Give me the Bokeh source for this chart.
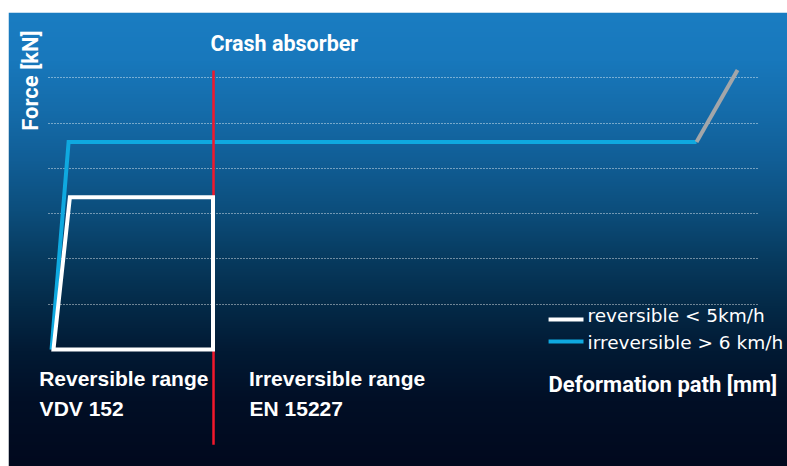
import numpy as np
from bokeh.plotting import figure
from bokeh.models import Range1d, FixedTicker
from bokeh.core.properties import value
from bokeh.embed import file_html
from bokeh.resources import INLINE

# ---- data (deformation path in arbitrary units, force in arbitrary units) ----
irrev_x = [-0.6, 10.0, 400.0]
irrev_y = [0.0, 4.58, 4.58]
rev_x = [0.6, 10.8, 99.7, 99.7]
rev_y = [0.0, 3.36, 3.36, 0.0]
end_x = [400.0, 425.5]
end_y = [4.58, 6.17]
absorber_x = [100.0, 100.0]
absorber_y = [-2.1, 6.16]
grid_ticks = [1, 2, 3, 4, 5, 6]

legend_labels = ["reversible < 5km/h", "irreversible > 6 km/h"]
range_labels = ["Reversible range", "VDV 152", "Irreversible range", "EN 15227"]

X0, X1 = -27.33, 456.5
Y0, Y1 = -2.58, 7.44
DY = 0.155  # baseline correction for text glyphs

p = figure(width=787, height=466, output_backend="svg", toolbar_location=None,
           x_range=Range1d(X0, X1), y_range=Range1d(Y0, Y1),
           min_border_left=8, min_border_right=0, min_border_bottom=0, min_border_top=12)
p.border_fill_color = "white"
p.outline_line_color = None
p.xaxis.visible = False
p.yaxis.visible = False
p.xgrid.visible = False
p.ygrid.ticker = FixedTicker(ticks=grid_ticks)
p.ygrid.cross_bounds = (-2.5, 438.0)
p.ygrid.grid_line_color = "white"
p.ygrid.grid_line_alpha = 0.85
p.ygrid.grid_line_dash = "1 2"
p.ygrid.grid_line_width = 1

# background gradient (vertical)
H = 454
stops_px = [12, 60, 110, 160, 210, 260, 305, 350, 400, 466]
stops_rgb = [(26, 125, 194), (24, 120, 188), (21, 108, 170), (17, 94, 150),
             (12, 78, 124), (7, 58, 94), (4, 42, 72), (2, 26, 52), (1, 15, 38), (1, 9, 30)]
rows = np.arange(H)[::-1] + 12  # row 0 = bottom
img = np.zeros((H, 1), dtype=np.uint32)
view = img.view(dtype=np.uint8).reshape((H, 1, 4))
for c in range(3):
    view[:, 0, c] = np.interp(rows, stops_px, [s[c] for s in stops_rgb]).astype(np.uint8)
view[:, 0, 3] = 255
p.image_rgba(image=[img], x=X0, y=Y0, dw=X1 - X0, dh=Y1 - Y0, level="image")

BLUE = "#0fa9e0"
p.line(irrev_x, irrev_y, line_color=BLUE, line_width=4, line_join="miter")
p.line(end_x, end_y, line_color="#a3a6a9", line_width=4)
p.line(absorber_x, absorber_y, line_color="#f2182c", line_width=2.5)
p.patch(rev_x, rev_y, fill_alpha=0, line_color="white", line_width=4, line_join="miter")

# legend
p.line([308.1, 329.8], [0.662, 0.662], line_color="white", line_width=4)
p.line([308.1, 329.8], [0.177, 0.177], line_color=BLUE, line_width=4)
p.text([332.3, 332.3], [0.596 + DY, 0.0 + DY], text=legend_labels, text_color="white",
       text_font=value("DejaVu Sans"), text_font_size="18.5px", text_baseline="alphabetic")

# titles
p.text([98.1], [6.60 + DY], text=["Crash absorber"], text_color="white",
       text_font=value("Roboto"), text_font_style="bold", text_font_size="21.5px",
       text_baseline="alphabetic")
p.text([-13.67], [4.83], text=["Force [kN]"], text_color="white", angle=np.pi / 2,
       text_font=value("Roboto"), text_font_style="bold", text_font_size="22px",
       text_baseline="alphabetic")
p.text([308.1], [-0.927 + DY], text=["Deformation path [mm]"], text_color="white",
       text_font=value("Roboto"), text_font_style="bold", text_font_size="22px",
       text_baseline="alphabetic")

# range labels
p.text([-8.3, -8.0, 122.0, 122.4],
       [-0.795 + DY, -1.457 + DY, -0.795 + DY, -1.457 + DY], text=range_labels,
       text_color="white", text_font=value("Liberation Sans"), text_font_style="bold",
       text_font_size="21px", text_baseline="alphabetic")

open("out.html", "w").write(file_html(p, INLINE))
